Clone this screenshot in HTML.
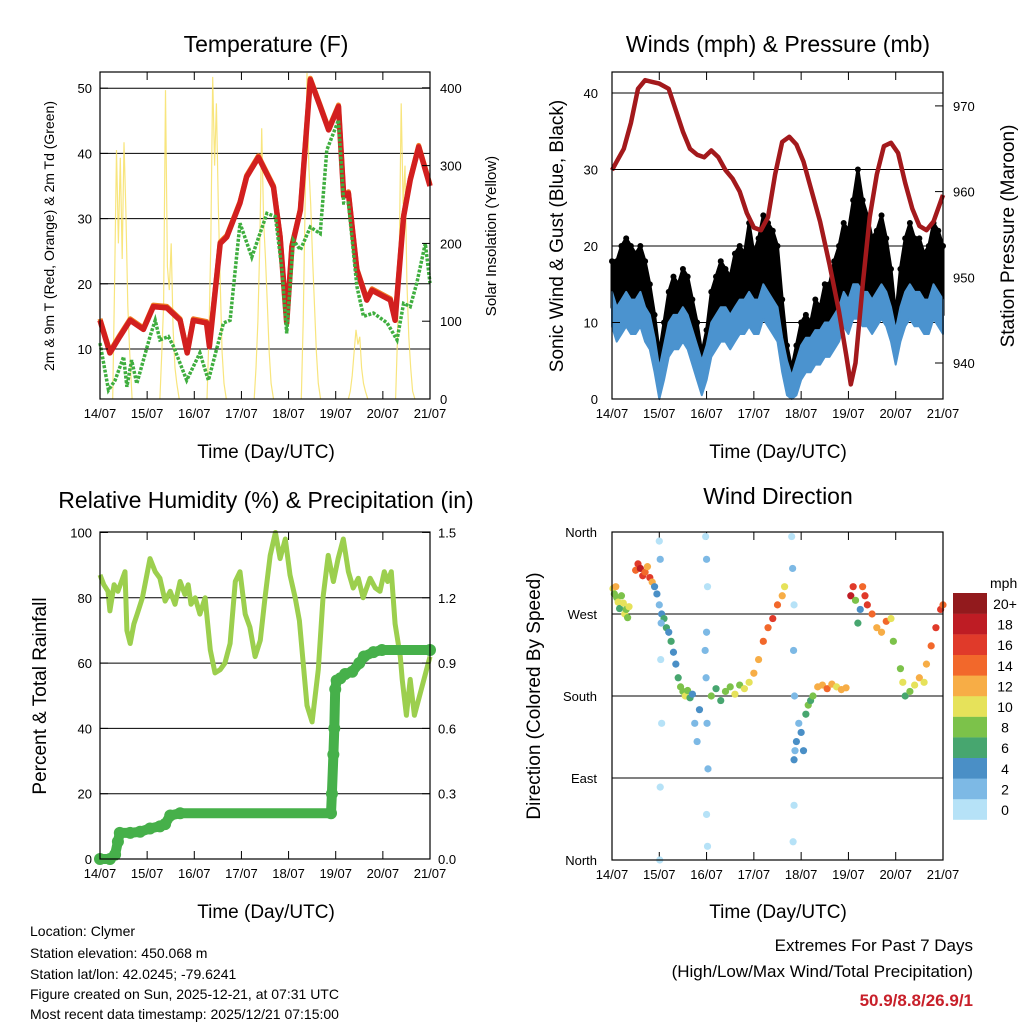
<!DOCTYPE html>
<html><head><meta charset="utf-8">
<style>
html,body{margin:0;padding:0;background:#fff;}
svg{display:block;font-family:"Liberation Sans",Arial,sans-serif;}
</style></head>
<body>
<svg id="chart" width="1024" height="1024" viewBox="0 0 1024 1024" xmlns="http://www.w3.org/2000/svg">
<rect width="1024" height="1024" fill="#fff"/>
<g id="layer"></g>
<text x="266" y="52" font-size="23" text-anchor="middle">Temperature (F)</text>
<text x="778" y="52" font-size="23" text-anchor="middle">Winds (mph) &amp; Pressure (mb)</text>
<text x="266" y="508" font-size="23" text-anchor="middle">Relative Humidity (%) &amp; Precipitation (in)</text>
<text x="778" y="504" font-size="23" text-anchor="middle">Wind Direction</text>
<text x="266" y="458" font-size="19" text-anchor="middle">Time (Day/UTC)</text>
<text x="778" y="458" font-size="19" text-anchor="middle">Time (Day/UTC)</text>
<text x="266" y="918" font-size="19" text-anchor="middle">Time (Day/UTC)</text>
<text x="778" y="918" font-size="19" text-anchor="middle">Time (Day/UTC)</text>
<text transform="translate(54,236) rotate(-90)" font-size="14" text-anchor="middle">2m &amp; 9m T (Red, Orange) &amp; 2m Td (Green)</text>
<text transform="translate(496,236) rotate(-90)" font-size="15" text-anchor="middle">Solar Insolation (Yellow)</text>
<text transform="translate(563,236) rotate(-90)" font-size="19" text-anchor="middle">Sonic Wind &amp; Gust (Blue, Black)</text>
<text transform="translate(1014,236) rotate(-90)" font-size="19" text-anchor="middle">Station Pressure (Maroon)</text>
<text transform="translate(46,696) rotate(-90)" font-size="19" text-anchor="middle">Percent &amp; Total Rainfall</text>
<text transform="translate(540,696) rotate(-90)" font-size="19" text-anchor="middle">Direction (Colored By Speed)</text>
<g font-size="14">
<text x="30" y="936">Location: Clymer</text>
<text x="30" y="958">Station elevation: 450.068 m</text>
<text x="30" y="979">Station lat/lon: 42.0245; -79.6241</text>
<text x="30" y="999">Figure created on Sun, 2025-12-21, at 07:31 UTC</text>
<text x="30" y="1019">Most recent data timestamp: 2025/12/21 07:15:00</text>
</g>
<text x="973" y="951" font-size="17" text-anchor="end">Extremes For Past 7 Days</text>
<text x="973" y="977" font-size="17" text-anchor="end">(High/Low/Max Wind/Total Precipitation)</text>
<text x="973" y="1006" font-size="17" font-weight="bold" fill="#c8202a" text-anchor="end">50.9/8.8/26.9/1</text>
</svg>
<script>
// ---------- DATA ----------
const dayTickLabels = ["14/07","15/07","16/07","17/07","18/07","19/07","20/07","21/07"];
const tempTicks = [10,20,30,40,50];
const solarTicks = [0,100,200,300,400];
const windTicks = [0,10,20,30,40];
const pressTicks = [940,950,960,970];
const rhTicks = [0,20,40,60,80,100];
const precipTicks = ["0.0","0.3","0.6","0.9","1.2","1.5"];
const dirTickLabels = ["North","East","South","West","North"];
const speedLabels = ["0","2","4","6","8","10","12","14","16","18","20+"];

const tempDays = [0,0.21,0.42,0.64,0.92,1.13,1.42,1.70,1.85,1.98,2.26,2.32,2.55,2.69,2.97,3.11,3.36,3.68,3.82,3.96,4.07,4.25,4.46,4.67,4.85,5.06,5.17,5.27,5.45,5.66,5.77,6.16,6.26,6.44,6.58,6.76,7.0];
const tempVals = [14.4,9.4,11.9,14.4,13,16.5,16.3,14.4,9.4,14.4,14,10.4,26.2,27.2,32.4,36.4,39.4,34.8,27.2,14,25.7,31.3,51.3,47.2,43.6,47.2,33.4,33.9,22.1,17.5,19,17.5,14.4,30.3,35.9,41,35];
const dewDays = [0,0.18,0.32,0.50,0.57,0.67,0.78,1.06,1.17,1.27,1.45,1.56,1.84,2.12,2.30,2.62,2.76,2.97,3.22,3.54,3.72,3.86,3.96,4.10,4.25,4.46,4.67,4.81,5.06,5.17,5.27,5.45,5.59,5.80,6.09,6.30,6.44,6.58,6.72,6.90,7.0];
const dewVals = [10.9,3.7,5.2,8.8,4.2,8.3,4.7,11.9,14.4,11.4,11.9,10.4,5.2,9.4,5.2,14,14.4,29.3,24.1,30.8,30.3,22.1,12.4,26.7,25.2,28.7,27.7,40.5,45.1,32.4,32.4,19.6,15,15.5,14,11.4,17,16.5,20.1,26.2,20.1];
const solarDayStart = [0,1,2,3,4,5,6];
const solarHours = [0.27,0.31,0.35,0.39,0.43,0.47,0.51,0.55,0.59,0.63,0.68];
const solarVals = [
 [0,150,320,200,310,180,330,240,120,60,0],
 [0,60,120,397,170,140,200,90,40,20,0],
 [0,80,200,414,300,380,250,150,60,20,0],
 [0,40,100,200,348,230,180,120,60,20,0],
 [0,100,250,419,300,250,180,120,60,20,0],
 [0,10,30,60,89,70,80,40,20,10,0],
 [0,80,200,380,250,300,150,80,40,10,0]];

const windDays = [0,0.1,0.2,0.3,0.4,0.5,0.6,0.7,0.8,0.9,1.0,1.1,1.2,1.3,1.4,1.5,1.6,1.7,1.8,1.9,2.0,2.1,2.2,2.3,2.4,2.5,2.6,2.7,2.8,2.9,3.0,3.1,3.2,3.3,3.4,3.5,3.6,3.7,3.8,3.9,4.0,4.1,4.2,4.3,4.4,4.5,4.6,4.7,4.8,4.9,5.0,5.1,5.2,5.3,5.4,5.5,5.6,5.7,5.8,5.9,6.0,6.1,6.2,6.3,6.4,6.5,6.6,6.7,6.8,6.9,7.0];
const windVals = [12,10,11,12,11,11,12,10,9,6,2,5,8,9,9,10,9,7,5,3,5,8,9,10,10,9,10,11,11,12,11,11,13,12,11,10,6,3,1,3,5,6,6,7,7,8,8,9,10,12,11,13,13,12,12,11,12,13,12,10,7,10,12,13,12,12,11,11,13,12,11];
const gustVals = [18,18,20,21,20,19,20,18,15,11,6,10,14,16,15,17,16,13,10,6,9,14,16,18,17,16,19,20,19,23,19,21,24,23,22,20,13,7,4,7,10,11,10,13,12,15,15,18,20,23,22,26,30,26,24,21,22,24,21,17,11,17,21,23,21,21,19,20,23,22,20];
const pressDays = [0,0.1,0.25,0.4,0.55,0.7,0.85,1.0,1.2,1.35,1.5,1.65,1.8,1.95,2.1,2.25,2.4,2.55,2.7,2.85,3.0,3.15,3.3,3.45,3.6,3.75,3.9,4.05,4.2,4.4,4.6,4.8,4.95,5.05,5.15,5.3,5.45,5.6,5.75,5.9,6.05,6.2,6.35,6.5,6.65,6.8,7.0];
const pressVals = [962.5,963.5,965,968,972,973,972.8,972.6,972,969.5,967,965,964.3,964,964.8,964,962.5,961.5,960,957.5,955.8,955.5,957,962,965.8,966.4,965.5,963.5,960.5,956.5,951.5,946,941,937.5,940,949,957,962,965.3,965.7,964.5,961,958,956,955.5,956.5,959.6];

const rhDays = [0,0.08,0.17,0.21,0.3,0.38,0.53,0.57,0.64,0.72,0.79,0.9,1.06,1.17,1.27,1.38,1.49,1.59,1.7,1.8,1.87,1.93,2.02,2.12,2.23,2.34,2.44,2.55,2.65,2.76,2.87,2.97,3.08,3.18,3.29,3.4,3.5,3.61,3.72,3.82,3.93,4.03,4.14,4.23,4.31,4.39,4.5,4.63,4.73,4.84,4.95,5.05,5.16,5.27,5.37,5.48,5.58,5.73,5.84,5.94,6.03,6.1,6.18,6.26,6.37,6.41,6.5,6.58,6.67,7.0];
const rhVals = [87,84,82,76,84,82,88,70,66,72,75,80,92,88,86,79,82,78,85,81,84,78,80,75,80,64,57,58,60,66,85,88,75,71,62,67,80,93,100,92,98,87,80,73,60,47,42,58,80,93,85,92,98,88,83,86,80,86,83,82,88,85,88,72,62,55,44,55,44,62];
const precipDays = [0,0.21,0.32,0.38,0.42,0.64,0.85,1.06,1.27,1.38,1.49,1.7,4.9,4.92,4.95,4.97,4.99,5.02,5.1,5.2,5.35,5.5,5.6,5.8,5.98,7.0];
const precipVals = [0,0,0.02,0.08,0.12,0.12,0.125,0.14,0.15,0.16,0.2,0.21,0.21,0.3,0.48,0.6,0.78,0.82,0.83,0.85,0.86,0.9,0.93,0.95,0.96,0.96];

const dirPts = [[0.02,298,10],[0.05,292,8],[0.08,300,12],[0.1,288,9],[0.13,283,10],[0.16,276,7],[0.2,290,8],[0.24,282,11],[0.27,270,10],[0.3,275,9],[0.33,266,8],[0.36,278,11],
[0.5,318,14],[0.55,325,16],[0.6,320,18],[0.65,312,17],[0.7,316,15],[0.75,322,13],[0.8,310,16],[0.85,305,12],
[0.9,300,5],[0.95,292,4],[1.0,280,3],[1.05,270,5],[1.1,265,6],[1.15,255,7],[1.2,250,5],
[1.0,350,1],[1.02,330,2],[1.03,220,1],[1.05,150,1],[1.02,80,1],[1.01,0,1],[1.04,260,2],
[1.25,240,6],[1.3,228,5],[1.35,215,4],[1.4,200,6],[1.45,190,8],[1.5,185,9],[1.55,180,10],[1.6,186,8],[1.65,178,6],[1.7,182,4],[1.75,150,3],[1.8,130,3],[1.85,165,4],
[1.98,355,1],[2.0,330,2],[2.02,300,1],[2.0,250,2],[1.99,200,3],[2.01,150,2],[2.03,100,2],[2.0,50,1],[2.02,15,1],[1.97,230,3],
[2.1,180,8],[2.2,188,6],[2.3,175,7],[2.4,185,9],[2.5,190,8],[2.6,182,10],[2.7,192,9],[2.8,188,11],[2.9,195,10],
[3.0,205,12],[3.1,220,13],[3.2,240,14],[3.3,255,15],[3.4,265,16],[3.5,280,14],[3.6,290,12],[3.65,300,10],
[3.8,355,1],[3.82,320,2],[3.85,280,1],[3.84,230,2],[3.86,180,3],[3.87,120,2],[3.85,60,1],[3.83,20,1],
[3.85,110,4],[3.9,130,5],[3.95,150,3],[4.0,140,4],[4.05,120,5],[4.1,160,6],[4.15,170,8],[4.2,175,6],[4.25,180,9],
[4.35,190,12],[4.45,192,13],[4.55,188,14],[4.65,193,12],[4.75,190,11],[4.85,187,13],[4.95,189,12],
[5.05,290,18],[5.1,300,16],[5.15,285,8],[5.2,260,6],[5.25,275,5],[5.3,300,14],[5.35,290,16],[5.4,280,17],
[5.5,270,15],[5.6,255,13],[5.7,250,12],[5.8,262,14],[5.9,265,10],[5.95,240,8],
[6.1,210,8],[6.15,195,10],[6.2,180,7],[6.3,185,9],[6.4,192,11],[6.5,200,12],[6.6,195,10],
[6.65,215,13],[6.75,235,15],[6.85,255,16],[6.95,275,17],[7.0,280,14]];
const speedColors = ["#b6e2f7","#7db9e5","#4a8fc6","#47a66f","#7cc24a","#e6e25a","#f7ad46","#f2682b","#e03a2a","#be1c24","#921a1d"];

// ---------- HELPERS ----------
const NS="http://www.w3.org/2000/svg";
const layer=document.getElementById('layer');
function mk(tag,attrs,parent){const e=document.createElementNS(NS,tag);for(const k in attrs)e.setAttribute(k,attrs[k]);(parent||layer).appendChild(e);return e;}
function P(x0,x1,y0,y1){return {x0,x1,y0,y1};}
const pL=P(100,430,72,399), pR=P(612,943,72,399), pL2=P(100,430,532,859), pR2=P(612,943,532,860);
function xs(p,d){return p.x0+(p.x1-p.x0)*d/7;}
const yTemp=v=>349-(v-10)*6.52;
const ySolar=v=>Math.max(72,399-v*0.778);
const yWind=v=>Math.min(399,399-v*7.65);
const yPress=v=>363-(v-940)*8.57;
const yRH=v=>859-v*3.265;
const yPrecip=v=>859-v*217.7;
const yDir=v=>860-v*328/360;
function path(xsArr,ysArr){return xsArr.map((x,i)=>(i?'L':'M')+x.toFixed(1)+','+ysArr[i].toFixed(1)).join('');}

function frame(p,name,grids){
  const g=mk('g',{});
  
  
  grids.forEach(y=>mk('line',{x1:p.x0,x2:p.x1,y1:y,y2:y,stroke:'#000','stroke-width':1},g));
  for(let d=0;d<=7;d++){
    const x=xs(p,d);
    mk('line',{x1:x,x2:x,y1:p.y1,y2:p.y1-8,stroke:'#000'},g);
    mk('line',{x1:x,x2:x,y1:p.y0,y2:p.y0+8,stroke:'#000'},g);
    const t=mk('text',{x:x,y:p.y1+19,'font-size':13,'text-anchor':'middle'},g);
    t.textContent=dayTickLabels[d];
    
    
  }
  return g;
}
function border(p){mk('rect',{x:p.x0,y:p.y0,width:p.x1-p.x0,height:p.y1-p.y0,fill:'none',stroke:'#000','stroke-width':1.2});}
function yLabels(vals,labels,yf,x,anchor,p,side){
  vals.forEach((v,i)=>{const y=yf(v);
    const t=mk('text',{x:x,y:y+5,'font-size':13,'text-anchor':anchor});
    t.textContent=labels[i];
    
    
    const xe=side==='l'?p.x0:p.x1, dx=side==='l'?8:-8;
    mk('line',{x1:xe,x2:xe+dx,y1:y,y2:y,stroke:'#000'});
  });
}

// ---------- PANEL 1: TEMPERATURE ----------
frame(pL,'temp',tempTicks.map(yTemp));
solarDayStart.forEach((d,k)=>{
  const e=mk('path',{d:path(solarHours.map(h=>xs(pL,d+h)),solarVals[k].map(ySolar)),fill:'none',stroke:'#f7e066','stroke-width':1.2,'stroke-opacity':0.85});
  
  
});
{const tx=tempDays.map(d=>xs(pL,d)), ty=tempVals.map(yTemp);
 let e=mk('path',{d:path(tx,ty.map(y=>y-1.5)),fill:'none',stroke:'#f07a20','stroke-width':5,'stroke-linejoin':'round'});
 
 
 e=mk('path',{d:path(tx,ty),fill:'none',stroke:'#d21f1f','stroke-width':5.5,'stroke-linejoin':'round'});
 
 
 e=mk('path',{d:path(dewDays.map(d=>xs(pL,d)),dewVals.map(yTemp)),fill:'none',stroke:'#3fae3f','stroke-width':3.5,'stroke-dasharray':'3 1.5'});
 
 }
border(pL);
yLabels(tempTicks,tempTicks.map(String),yTemp,92,'end',pL,'l');
yLabels(solarTicks,solarTicks.map(String),v=>399-v*0.778,440,'start',pL,'r');

// ---------- PANEL 2: WIND ----------
frame(pR,'wind',windTicks.slice(1).map(yWind));
{const wx=windDays.map(d=>xs(pR,d));
 let e=mk('path',{d:path(wx,gustVals.map(yWind))+path(wx.slice().reverse(),windVals.slice().reverse().map(yWind)).replace('M','L')+'Z',fill:'#000',stroke:'#000','stroke-width':3,'stroke-linejoin':'round'});
 
 
 gustVals.forEach((v,i)=>{const c=mk('circle',{cx:wx[i],cy:yWind(v),r:3,fill:'#000'});
   
   });
 e=mk('path',{d:path(wx,windVals.map(v=>yWind(v+2)))+path(wx.slice().reverse(),windVals.slice().reverse().map(v=>yWind(v-2.5))).replace('M','L')+'Z',fill:'#4b93cf',stroke:'#4b93cf','stroke-width':2,'stroke-linejoin':'round'});
 
 
 e=mk('path',{d:path(pressDays.map(d=>xs(pR,d)),pressVals.map(yPress)),fill:'none',stroke:'#a3191c','stroke-width':4.5,'stroke-linejoin':'round'});
 
 }
border(pR);
yLabels(windTicks,windTicks.map(String),yWind,598,'end',pR,'l');
yLabels(pressTicks,pressTicks.map(String),yPress,953,'start',pR,'r');

// ---------- PANEL 3: RH & PRECIP ----------
frame(pL2,'rh',[20,40,60,80].map(yRH));
{let e=mk('path',{d:path(rhDays.map(d=>xs(pL2,d)),rhVals.map(yRH)),fill:'none',stroke:'#9ccf4e','stroke-width':5,'stroke-linejoin':'round'});
 
 
 const px=precipDays.map(d=>xs(pL2,d)), py=precipVals.map(yPrecip);
 e=mk('path',{d:path(px,py),fill:'none',stroke:'#46b04a','stroke-width':10,'stroke-linejoin':'round'});
 
 
 px.forEach((x,i)=>{const c=mk('circle',{cx:x,cy:py[i],r:6,fill:'#46b04a'});
   
   });}
border(pL2);
yLabels(rhTicks,rhTicks.map(String),yRH,92,'end',pL2,'l');
yLabels(precipTicks.map(Number),precipTicks,yPrecip,438,'start',pL2,'r');

// ---------- PANEL 4: DIRECTION ----------
frame(pR2,'dir',[90,180,270].map(yDir));
dirPts.forEach(p=>{const c=mk('circle',{cx:xs(pR2,p[0]),cy:yDir(p[1]),r:3.6,fill:speedColors[Math.min(10,Math.floor(p[2]/2))]});
  
  });
border(pR2);
yLabels([0,90,180,270,360],dirTickLabels,yDir,597,'end',pR2,'l');
// colorbar
{const g=mk('g',{});
 
 
 const t=mk('text',{x:990,y:588,'font-size':14},g);t.textContent='mph';
 for(let i=0;i<11;i++){const y=593+(10-i)*20.6;
   mk('rect',{x:953,y:y,width:34,height:20.8,fill:speedColors[i]},g);
   const l=mk('text',{x:1005,y:y+16,'font-size':14,'text-anchor':'middle'},g);l.textContent=speedLabels[i];}}
</script>
</body></html>
